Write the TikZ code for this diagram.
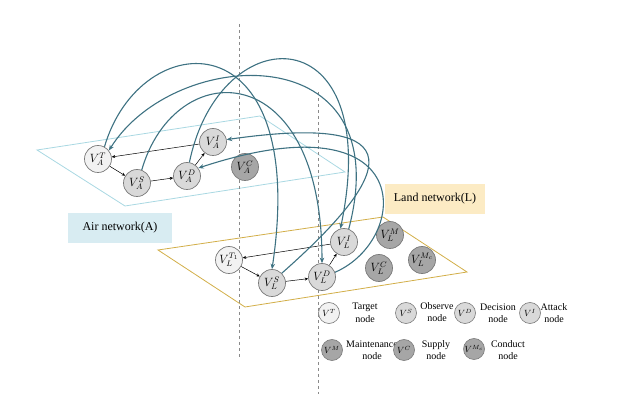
\documentclass[tikz,border=0pt]{standalone}
\usepackage{fontspec}
\setmainfont{Liberation Serif}
\usetikzlibrary{arrows.meta}
\definecolor{arcc}{HTML}{3E7282}
\definecolor{ndborder}{HTML}{7A7A7A}
\definecolor{nwhitec}{HTML}{F2F2F2}
\definecolor{nlightc}{HTML}{D9D9D9}
\definecolor{ndarkc}{HTML}{A6A6A6}
\definecolor{airplane}{HTML}{A9D8E2}
\definecolor{landplane}{HTML}{D2AE48}
\definecolor{airbox}{HTML}{D8ECF2}
\definecolor{landbox}{HTML}{FCEBC4}
\definecolor{dashc}{HTML}{8A8A8A}
\tikzset{
  nd/.style={circle, draw=ndborder, line width=0.7pt, minimum size=27pt, inner sep=0pt, font=\large},
  nwhite/.style={nd, fill=nwhitec},
  nlight/.style={nd, fill=nlightc},
  ndark/.style={nd, fill=ndarkc},
  legnd/.style={circle, draw=ndborder, line width=0.6pt, minimum size=21pt, inner sep=0pt, font=\small},
  legtext/.style={align=center, font=\fontsize{10}{12.5}\selectfont, inner sep=0pt},
  arcline/.style={draw=arcc, line width=1.1pt, -{Stealth[length=5.5pt,width=4.5pt]}},
  blk/.style={draw=black, line width=0.5pt, -{Stealth[length=3.5pt,width=3pt]}},
  vdash/.style={draw=dashc, line width=0.7pt, dash pattern=on 3.5pt off 2.5pt},
  netbox/.style={inner sep=0pt, font=\fontsize{12}{14}\selectfont}
}
\begin{document}
\begin{tikzpicture}[x=1pt,y=-1pt]
\useasboundingbox (0,0) rectangle (621,411);
% planes
\draw[airplane, line width=0.8pt] (37,150) -- (260,116) -- (345,172) -- (125,206) -- cycle;
\draw[landplane, line width=0.8pt] (158,250) -- (383,217) -- (467,272) -- (245,307) -- cycle;
% dashed vertical lines
\draw[vdash] (239,24) -- (239,358);
\draw[vdash] (318,92) -- (318,394);
% network labels
\node[netbox, fill=airbox, minimum width=104pt, minimum height=30pt] (airlab) at (120,228) {Air network(A)};
\node[netbox, fill=landbox, minimum width=100pt, minimum height=30pt] (landlab) at (435,199) {Land network(L)};
% air nodes
\node[nwhite] (AT) at (98,159) {$V_A^T$};
\node[nlight] (AS) at (137,183) {$V_A^S$};
\node[nlight] (AD) at (187,176) {$V_A^D$};
\node[nlight] (AI) at (213,142) {$V_A^I$};
\node[ndark]  (AC) at (245,167) {$V_A^C$};
% land nodes
\node[nwhite] (LT) at (229,260) {$V_L^{T_1}$};
\node[nlight] (LS) at (272,283) {$V_L^S$};
\node[nlight] (LD) at (322,277) {$V_L^D$};
\node[nlight] (LI) at (344,242) {$V_L^I$};
\node[ndark]  (LM) at (390,235) {$V_L^M$};
\node[ndark]  (LC) at (379,268) {$V_L^C$};
\node[ndark]  (LMc) at (422,260) {$V_L^{M_c}$};
% intra-network arrows
\draw[blk] (AT) -- (AS);
\draw[blk] (AS) -- (AD);
\draw[blk] (AD) -- (AI);
\draw[blk] (AI) -- (AT);
\draw[blk] (LT) -- (LS);
\draw[blk] (LS) -- (LD);
\draw[blk] (LD) -- (LI);
\draw[blk] (LI) -- (LT);
% cross-network arcs
\draw[arcline] (AT.62) .. controls (140,25) and (310,15) .. (LS.north);
\draw[arcline] (AS.70) .. controls (175,55) and (322,55) .. (LD.north);
\draw[arcline] (AD.80) .. controls (220,15) and (385,15) .. (LI.105);
\draw[arcline] (LI.70) .. controls (400,35) and (175,45) .. (AT.38);
\draw[arcline] (LS.45) .. controls (410,160) and (400,115) .. (AI.10);
\draw[arcline] (LD.20) .. controls (410,240) and (420,95) .. (AD.35);
% legend
\node[legnd, fill=nwhitec] (gT) at (329,313) {$V^T$};
\node[legtext] (tT) at (365,313) {Target\\node};
\node[legnd, fill=nlightc] (gS) at (406,313) {$V^S$};
\node[legtext] (tS) at (437,312) {Observe\\node};
\node[legnd, fill=nlightc] (gD) at (465,313) {$V^D$};
\node[legtext] (tD) at (498,313) {Decision\\node};
\node[legnd, fill=nlightc] (gI) at (530,313) {$V^I$};
\node[legtext] (tI) at (554,313) {Attack\\node};
\node[legnd, fill=ndarkc] (gM) at (332,350) {$V^M$};
\node[legtext] (tM) at (372,350) {Maintenance\\node};
\node[legnd, fill=ndarkc] (gC) at (404,350) {$V^C$};
\node[legtext] (tC) at (436,350) {Supply\\node};
\node[legnd, fill=ndarkc] (gMc) at (474,349) {$V^{M_c}$};
\node[legtext] (tMc) at (508,350) {Conduct\\node};
\end{tikzpicture}
\end{document}
